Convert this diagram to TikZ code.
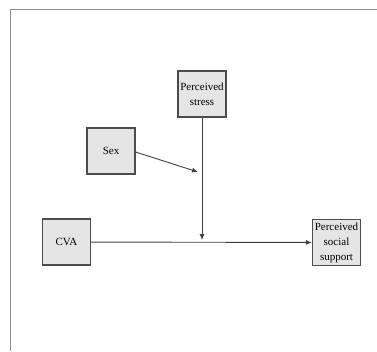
\documentclass[tikz,border=0pt]{standalone}
\usepackage{fontspec}
\setmainfont{Liberation Serif}
\usetikzlibrary{arrows.meta}

\begin{document}
\begin{tikzpicture}[
  x=1pt, y=-1pt,
  var/.style={draw=black!70, fill=black!10, line width=1.2pt, minimum width=48pt,
    minimum height=46pt, inner sep=1pt, align=center,
    font=\fontsize{11}{15}\selectfont},
  arrow/.style={-{Latex[length=6pt,width=5pt]}, draw=black!75, line width=0.9pt}
]

\useasboundingbox (0,0) rectangle (377,351);

% Frame
\draw[black!45, line width=0.8pt] (377,9) -- (10,9) -- (10,351);

% Variables
\node[var] (stress) at (202,94) {Perceived\\stress};
\node[var] (sex) at (111,151) {Sex};
\node[var] (cva) at (66.5,242) {CVA};
\node[var] (support) at (336.5,242.5) {Perceived\\social\\support};

% Points on the paths
\coordinate (mod) at (198,172);
\coordinate (path) at (202,240);

% Arrows
\draw[arrow] (cva) -- (support);
\draw[arrow] (stress) -- (path);
\draw[arrow] (sex.east) ++(0,1) -- (mod);

\end{tikzpicture}
\end{document}
